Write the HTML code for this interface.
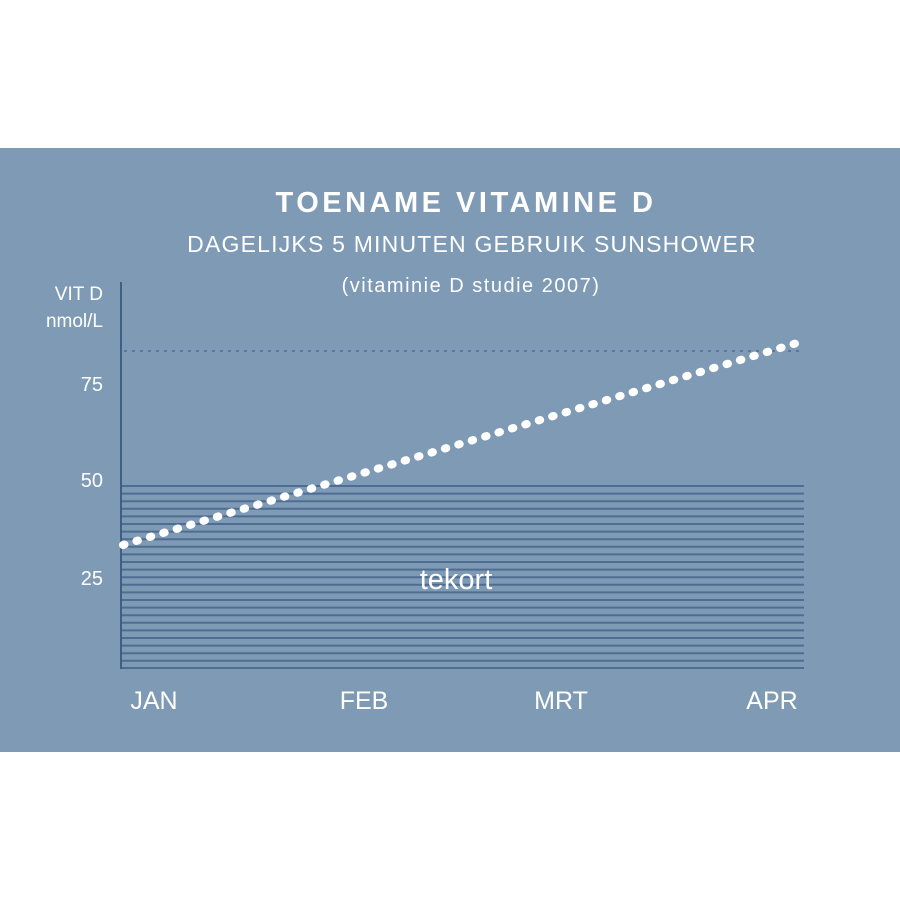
<!DOCTYPE html>
<html><head><style>
body{margin:0;background:#fff;width:900px;height:900px;overflow:hidden}
</style></head><body>
<svg width="900" height="900" xmlns="http://www.w3.org/2000/svg" style="position:absolute;left:0;top:0">
<rect x="0" y="148" width="900" height="604" fill="#7f9ab5"/>
<g stroke="#4d6d93" stroke-width="2">
<line x1="122" y1="486" x2="804" y2="486"/><line x1="122" y1="493.6" x2="804" y2="493.6"/><line x1="122" y1="501.2" x2="804" y2="501.2"/><line x1="122" y1="508.8" x2="804" y2="508.8"/><line x1="122" y1="516.4" x2="804" y2="516.4"/><line x1="122" y1="524" x2="804" y2="524"/><line x1="122" y1="531.6" x2="804" y2="531.6"/><line x1="122" y1="539.2" x2="804" y2="539.2"/><line x1="122" y1="546.8" x2="804" y2="546.8"/><line x1="122" y1="554.4" x2="804" y2="554.4"/><line x1="122" y1="562" x2="804" y2="562"/><line x1="122" y1="569.6" x2="804" y2="569.6"/><line x1="122" y1="577.2" x2="804" y2="577.2"/><line x1="122" y1="584.8" x2="804" y2="584.8"/><line x1="122" y1="592.4" x2="804" y2="592.4"/><line x1="122" y1="600" x2="804" y2="600"/><line x1="122" y1="607.6" x2="804" y2="607.6"/><line x1="122" y1="615.2" x2="804" y2="615.2"/><line x1="122" y1="622.8" x2="804" y2="622.8"/><line x1="122" y1="630.4" x2="804" y2="630.4"/><line x1="122" y1="638" x2="804" y2="638"/><line x1="122" y1="645.6" x2="804" y2="645.6"/><line x1="122" y1="653.2" x2="804" y2="653.2"/><line x1="122" y1="660.8" x2="804" y2="660.8"/><line x1="122" y1="668" x2="804" y2="668"/>
</g>
<line x1="121" y1="282" x2="121" y2="669" stroke="#3f5f86" stroke-width="2"/>
<line x1="124" y1="351" x2="800" y2="351" stroke="#4d6d93" stroke-width="1.5" stroke-dasharray="3,5"/>
<line x1="123" y1="545" x2="797" y2="343" stroke="#fff" stroke-width="8" stroke-linecap="round" stroke-dasharray="1.5,12.5"/>
<g font-family="Liberation Sans, sans-serif" fill="#fff">
<text x="466" y="212" font-size="29" font-weight="bold" text-anchor="middle" letter-spacing="3.5">TOENAME VITAMINE D</text>
<text x="472" y="252" font-size="23" text-anchor="middle" letter-spacing="1.2">DAGELIJKS 5 MINUTEN GEBRUIK SUNSHOWER</text>
<text x="471" y="292" font-size="20" text-anchor="middle" letter-spacing="1.5">(vitaminie D studie 2007)</text>
<text x="103" y="300" font-size="19" text-anchor="end">VIT D</text>
<text x="103" y="327" font-size="19" text-anchor="end">nmol/L</text>
<text x="103" y="391" font-size="20" text-anchor="end">75</text>
<text x="103" y="487" font-size="20" text-anchor="end">50</text>
<text x="103" y="585" font-size="20" text-anchor="end">25</text>
<text x="456" y="589" font-size="29" text-anchor="middle">tekort</text>
<text x="154" y="709" font-size="25" text-anchor="middle">JAN</text>
<text x="364" y="709" font-size="25" text-anchor="middle">FEB</text>
<text x="561" y="709" font-size="25" text-anchor="middle">MRT</text>
<text x="772" y="709" font-size="25" text-anchor="middle">APR</text>
</g>
</svg>
</body></html>
